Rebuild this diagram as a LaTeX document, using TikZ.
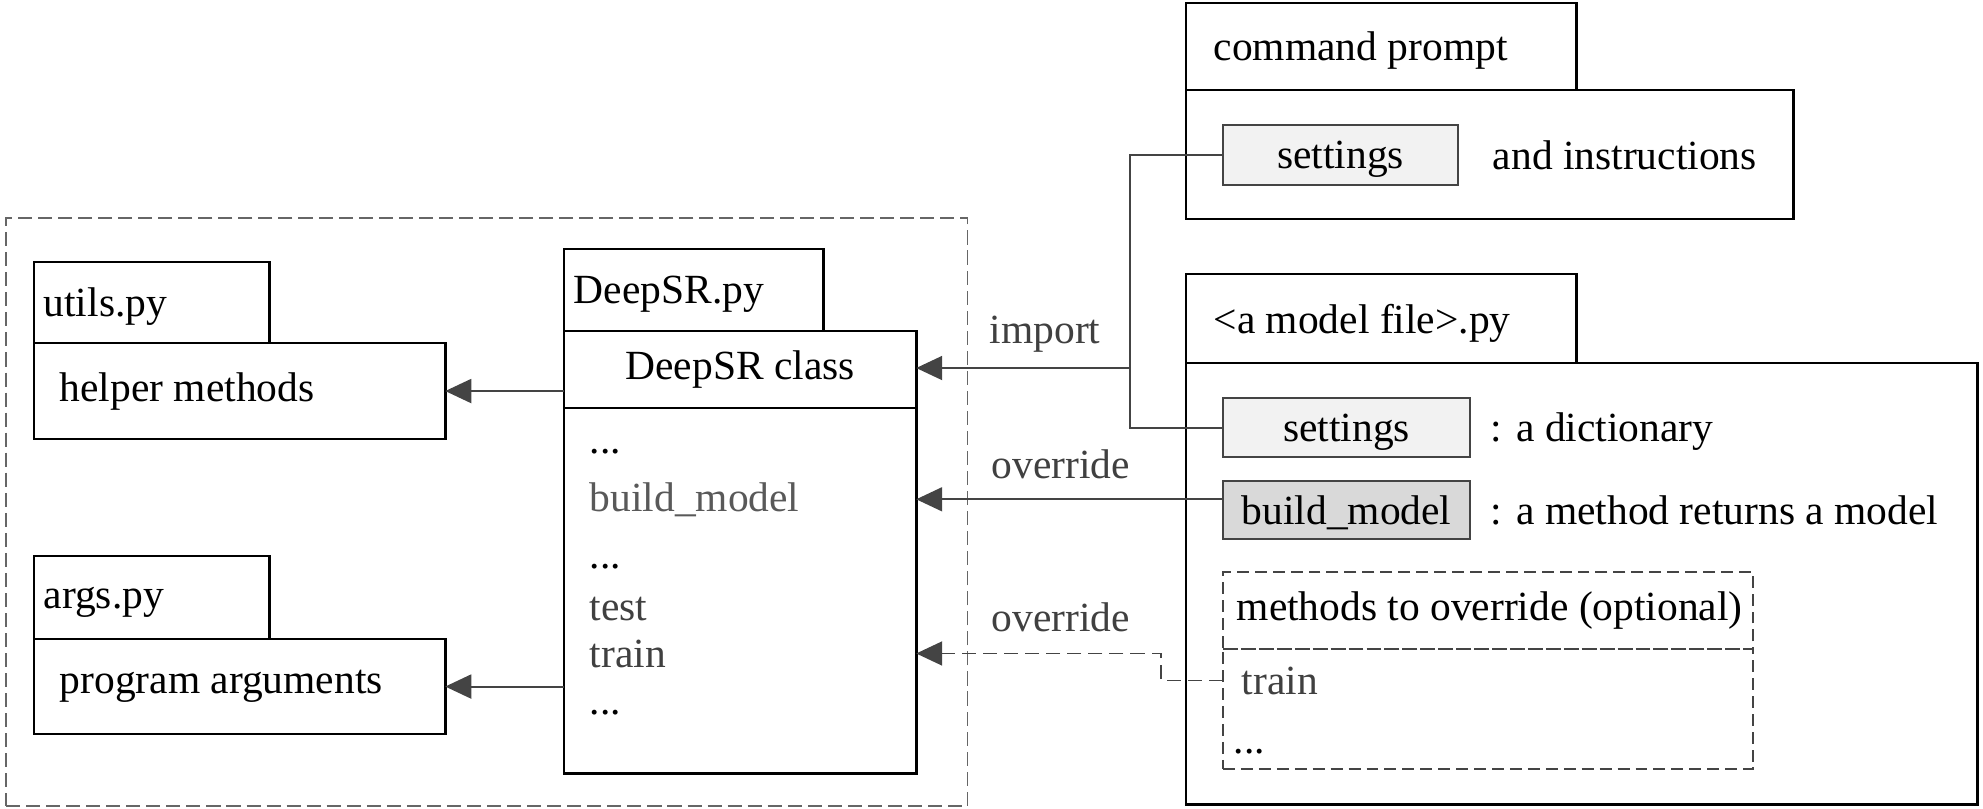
\documentclass[tikz,border=0pt]{standalone}
\usepackage{fontspec}
\setmainfont{Liberation Serif}
\definecolor{linegray}{RGB}{68,68,68}
\definecolor{pkggray}{RGB}{102,102,102}
\definecolor{textgray}{RGB}{89,89,89}
\definecolor{darkgray}{RGB}{64,64,64}
\definecolor{setfill}{RGB}{242,242,242}
\definecolor{buildfill}{RGB}{217,217,217}
\usetikzlibrary{arrows.meta,positioning,calc}
\newcommand{\mdots}{...}

\begin{document}
\begin{tikzpicture}[x=0.01cm,y=-0.01cm,
    every node/.style={font=\fontsize{11.8}{14}\selectfont},
    filebox/.style={draw,line width=0.8pt,inner sep=0pt,outer sep=0pt},
    setbox/.style={draw=linegray,line width=0.5pt,inner sep=0pt,outer sep=0pt,fill=#1,text depth=0pt},
    optbox/.style={draw=linegray,line width=0.6pt,dash pattern=on 3.4pt off 1.7pt,inner sep=0pt,outer sep=0pt},
    txt/.style={inner sep=0pt,anchor=west},
    tabtxt/.style={txt,text depth=0pt},
    listitem/.style={inner sep=0pt,anchor=base west},
    conn/.style={draw=linegray,line width=0.55pt},
    arrowtip/.style={-{Triangle[length=0.26cm,width=0.24cm]}}
    ]
    \useasboundingbox (0,0) rectangle (1983,808);

    % the package frame
    \node[draw=pkggray,line width=0.5pt,dash pattern=on 4pt off 1.7pt,inner sep=0pt,outer sep=0pt,
      minimum width=9.61cm,minimum height=5.88cm,anchor=north west] (pkg) at (6,218) {};

    % utils.py and args.py
    \node[filebox,minimum width=4.11cm,minimum height=0.96cm,anchor=north west] (utilsbody) at (34,343) {};
    \node[filebox,minimum width=2.35cm,minimum height=0.81cm,above right=0pt and 0pt of utilsbody.north west] (utilstab) {};
    \node[tabtxt,right=0.09cm of utilstab.west] (utilsname) {utils.py};
    \node[txt,right=0.25cm of utilsbody.west] (utilsdesc) {helper methods};

    \node[filebox,minimum width=4.11cm,minimum height=0.95cm,anchor=north west] (argsbody) at (34,639) {};
    \node[filebox,minimum width=2.35cm,minimum height=0.83cm,above right=0pt and 0pt of argsbody.north west] (argstab) {};
    \node[tabtxt,right=0.09cm of argstab.west] (argsname) {args.py};
    \node[txt,right=0.25cm of argsbody.west] (argsdesc) {program arguments};

    % DeepSR.py
    \node[filebox,minimum width=3.52cm,minimum height=0.77cm,anchor=north west] (dsrhead) at (564,331) {DeepSR class};
    \node[filebox,minimum width=3.52cm,minimum height=3.65cm,below right=0pt and 0pt of dsrhead.south west] (dsrbody) {};
    \node[filebox,minimum width=2.59cm,minimum height=0.82cm,above right=0pt and 0pt of dsrhead.north west] (dsrtab) {};
    \node[tabtxt,right=0.09cm of dsrtab.west] (dsrname) {DeepSR.py};
    \foreach \y/\t/\c [count=\i] in {453/\mdots/black,511/build\_model/textgray,568/\mdots/black,
        620/test/darkgray,667/train/darkgray,714/\mdots/black}
      \node[listitem,text=\c] (mitem\i) at (589,\y) {\t};

    % command prompt
    \node[filebox,minimum width=6.07cm,minimum height=1.29cm,anchor=north west] (cmdbody) at (1186,90) {};
    \node[filebox,minimum width=3.90cm,minimum height=0.87cm,above right=0pt and 0pt of cmdbody.north west] (cmdtab) {};
    \node[tabtxt,right=0.27cm of cmdtab.west] (cmdname) {command prompt};
    \node[setbox=setfill,minimum width=2.35cm,minimum height=0.60cm,anchor=north west] (cmdset) at (1223,125) {settings};
    \node[txt,right=0.34cm of cmdset] (cmdnote) {and instructions};

    % the model file
    \node[filebox,minimum width=7.91cm,minimum height=4.41cm,anchor=north west] (modbody) at (1186,363) {};
    \node[filebox,minimum width=3.90cm,minimum height=0.89cm,above right=0pt and 0pt of modbody.north west] (modtab) {};
    \node[tabtxt,right=0.27cm of modtab.west] (modname) {<a model file>.py};
    \node[setbox=setfill,minimum width=2.47cm,minimum height=0.59cm,anchor=north west] (modset) at (1223,398) {settings};
    \node[tabtxt,right=0.2cm of modset] (modsetnote) {: a dictionary};
    \node[setbox=buildfill,minimum width=2.47cm,minimum height=0.58cm,below=0.24cm of modset] (modbuild) {build\_model};
    \node[txt,right=0.2cm of modbuild] (modbuildnote) {: a method returns a model};
    \node[optbox,minimum width=5.30cm,minimum height=0.77cm,below right=0.33cm and 0pt of modbuild.south west] (opthead) {};
    \node[optbox,minimum width=5.30cm,minimum height=1.20cm,below right=0pt and 0pt of opthead.south west] (optbody) {};
    \node[txt,right=0.13cm of opthead.west] (optname) {methods to override (optional)};
    \node[listitem,text=darkgray] (opttrain) at (1241,694) {train};
    \node[listitem] (optdots) at (1233,753) {\mdots};

    % the connectors
    \draw[conn,arrowtip] (utilsbody.east -| dsrbody.west) -- (utilsbody.east);
    \draw[conn,arrowtip] (argsbody.east -| dsrbody.west) -- (argsbody.east);

    \coordinate (jn) at (1130,368);
    \draw[conn] (cmdset.west) -| (jn) |- (modset.west);
    \draw[conn,arrowtip] (jn) -- (jn -| dsrhead.east);
    \draw[conn,arrowtip] (modbuild.west |- mitem2) -- (mitem2 -| dsrbody.east);
    \draw[conn,arrowtip,dash pattern=on 4pt off 2pt] (opttrain -| optbody.west) -- ++(-62,0) |- (mitem5 -| dsrbody.east);

    \node[anchor=base,text=darkgray] (lblimport) at (1045,343) {import};
    \node[anchor=base,text=darkgray] (lbloverride) at (1061,478) {override};
    \node[anchor=base,text=darkgray] (lbloptional) at (1061,631) {override};
\end{tikzpicture}
\end{document}
